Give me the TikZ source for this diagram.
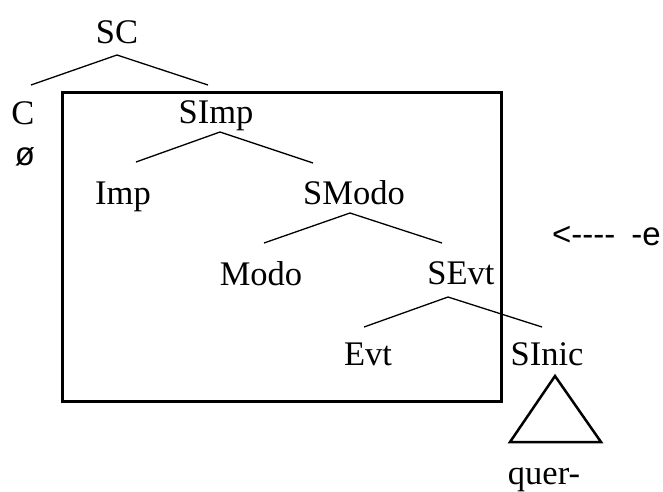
\documentclass[tikz,border=0pt]{standalone}
\usepackage{fontspec}
\setmainfont{Liberation Serif}
\newfontfamily\arialfont{Liberation Sans}
\begin{document}
\begin{tikzpicture}[x=1pt,y=-1pt,
  lbl/.style={anchor=base,inner sep=0pt,font=\fontsize{34.5}{40}\selectfont},
  sanslbl/.style={anchor=base,inner sep=0pt,font=\arialfont\fontsize{33}{38}\selectfont},
  branch/.style={line width=1.3pt},
  frame/.style={line width=3pt},
  tri/.style={line width=2.5pt,line join=miter}]
\useasboundingbox (0,0) rectangle (663,491);

% labels of the tree
\node[lbl] (SC)    at (117,43)  {SC};
\node[lbl] (C)     at (23,124)  {C};
\node[sanslbl] (null) at (25,165) {ø};
\node[lbl] (SImp)  at (216,123) {SImp};
\node[lbl] (Imp)   at (123,204) {Imp};
\node[lbl] (SModo) at (354,204) {SModo};
\node[lbl] (Modo)  at (261,285) {Modo};
\node[lbl] (SEvt)  at (461,284) {SEvt};
\node[lbl] (Evt)   at (368,365) {Evt};
\node[lbl] (SInic) at (547,365) {SInic};
\node[lbl] (quer)  at (544,484) {quer-};
\node[sanslbl,anchor=base west] (affix) at (552,245) {<----\hspace*{16pt}-e};

% branch points
\coordinate (SC-a)    at (117,55);
\coordinate (SC-l)    at (31,85);
\coordinate (SC-r)    at (208,85);
\coordinate (SImp-a)  at (220,132);
\coordinate (SImp-l)  at (136,162);
\coordinate (SImp-r)  at (313,163);
\coordinate (SModo-a) at (350,213);
\coordinate (SModo-l) at (264,243);
\coordinate (SModo-r) at (442,243);
\coordinate (SEvt-a)  at (448,297);
\coordinate (SEvt-l)  at (364,327);
\coordinate (SEvt-r)  at (542,327);

\draw[branch] (SC-l) -- (SC-a) -- (SC-r);
\draw[branch] (SImp-l) -- (SImp-a) -- (SImp-r);
\draw[branch] (SModo-l) -- (SModo-a) -- (SModo-r);
\draw[branch] (SEvt-l) -- (SEvt-a) -- (SEvt-r);

% box round the lower part of the tree
\coordinate (box-nw) at (62,92);
\coordinate (box-se) at (501,401);
\draw[frame] (box-nw) rectangle (box-se);

% triangle under SInic
\coordinate (tri-top) at (555,376);
\coordinate (tri-l)   at (510,442);
\coordinate (tri-r)   at (601,442);
\draw[tri] (tri-top) -- (tri-l) -- (tri-r) -- cycle;
\end{tikzpicture}
\end{document}
